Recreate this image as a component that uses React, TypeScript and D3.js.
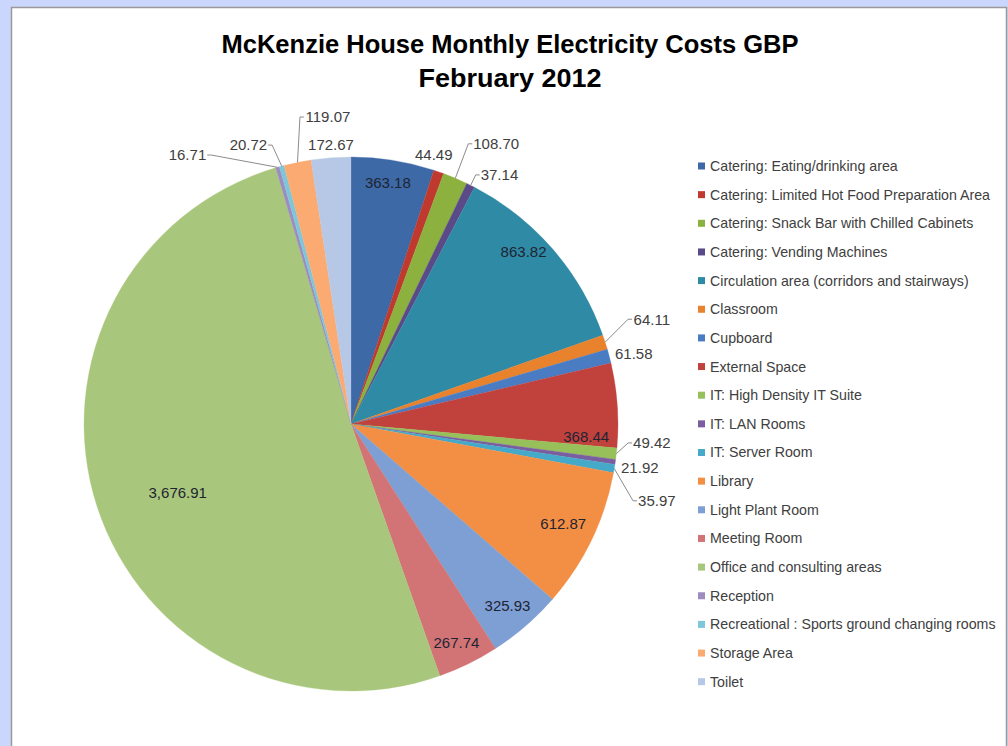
import React from 'react';
import * as d3 from 'd3';

const categories = [
  'Catering: Eating/drinking area',
  'Catering: Limited Hot Food Preparation Area',
  'Catering: Snack Bar with Chilled Cabinets',
  'Catering: Vending Machines',
  'Circulation area (corridors and stairways)',
  'Classroom',
  'Cupboard',
  'External Space',
  'IT: High Density IT Suite',
  'IT: LAN Rooms',
  'IT: Server Room',
  'Library',
  'Light Plant Room',
  'Meeting Room',
  'Office and consulting areas',
  'Reception',
  'Recreational : Sports ground changing rooms',
  'Storage Area',
  'Toilet',
];

const values = [
  363.18, 44.49, 108.7, 37.14, 863.82, 64.11, 61.58, 368.44, 49.42, 21.92,
  35.97, 612.87, 325.93, 267.74, 3676.91, 16.71, 20.72, 119.07, 172.67,
];

const colors = [
  '#3d69a6', '#c0392f', '#8cb13e', '#5a4a88', '#2f8aa6', '#e8822c',
  '#4a7cc4', '#c1423d', '#98c05a', '#7a5fa0', '#45a9c9', '#f38f44',
  '#7d9fd3', '#d27475', '#a9c77c', '#9c8cc0', '#7ec6da', '#fbab72', '#b7c8e6',
];

// label placement: angle in degrees clockwise from 12 o'clock, radius as fraction of the pie radius
const labelAngles = [8.7, 17.1, 27.4, 30.8, 45, 70.8, 76.1, 93.1, 93.6, 98.6, 104.1, 115.1, 139.2, 154.3, 248.4, 328.7, 339.8, 355.7, 355.9];
const labelRadii = [0.913, 1.054, 1.182, 1.086, 0.914, 1.193, 1.091, 0.882, 1.129, 1.094, 1.181, 0.878, 0.897, 0.911, 0.698, 1.179, 1.113, 1.153, 1.047];
const labelLeader = [false, false, true, true, false, true, false, false, true, false, true, false, false, false, false, true, true, true, false];

const W = 1008;
const H = 746;
const cx = 351;
const cy = 424;
const R = 267;
const labelFont = 15;

const fmt = d3.format(',.2f');

function textWidth(s: string, size: number) {
  let w = 0;
  for (const ch of s) w += ch === '.' || ch === ',' ? 0.278 : 0.556;
  return w * size;
}

export default function App() {
  const pie = d3.pie<number>().sort(null).value((d) => d)(values);
  const arc = d3.arc<d3.PieArcDatum<number>>().innerRadius(0).outerRadius(R);

  const legendX = 698;
  const legendY0 = 166;
  const legendStep = 28.65;

  const toXY = (deg: number, r: number): [number, number] => {
    const a = (deg * Math.PI) / 180;
    return [Math.sin(a) * r, -Math.cos(a) * r];
  };

  return (
    <svg
      width={W}
      height={H}
      style={{ position: 'absolute', left: 0, top: 0, display: 'block' }}
      fontFamily="'Liberation Sans', Arial, sans-serif"
    >
      <rect x={0} y={0} width={W} height={H} fill="#cbd6fc" />
      <rect x={11.5} y={7.5} width={995} height={H + 10} fill="#ffffff" stroke="#9a9a9a" strokeWidth={1.5} />
      <text x={510} y={53} textAnchor="middle" fontSize={26} fontWeight="bold" fill="#000" textLength={577} lengthAdjust="spacingAndGlyphs">
        McKenzie House Monthly Electricity Costs GBP
      </text>
      <text x={510} y={87} textAnchor="middle" fontSize={26} fontWeight="bold" fill="#000" textLength={183} lengthAdjust="spacingAndGlyphs">
        February 2012
      </text>
      <g transform={`translate(${cx},${cy})`}>
        {pie.map((p, i) => (
          <path key={i} d={arc(p) || ''} fill={colors[i]} stroke={colors[i]} strokeWidth={0.3} />
        ))}
        {pie.map((p, i) => {
          const [lx, ly] = toXY(labelAngles[i], labelRadii[i] * R);
          const txt = fmt(values[i]);
          const tw = textWidth(txt, labelFont);
          let leader = null;
          if (labelLeader[i]) {
            const mid = ((p.startAngle + p.endAngle) / 2) * (180 / Math.PI);
            const [sx, sy] = toXY(mid, R);
            const leftSide = lx < sx;
            const ex = leftSide ? lx + tw / 2 + 1 : lx - tw / 2 - 1;
            const ex2 = leftSide ? ex + 4 : ex - 4;
            leader = (
              <polyline
                points={`${ex},${ly} ${ex2},${ly} ${sx},${sy}`}
                fill="none"
                stroke="#8c8c8c"
                strokeWidth={1}
              />
            );
          }
          const inside = labelRadii[i] < 1;
          return (
            <g key={'l' + i}>
              {leader}
              <text
                x={lx}
                y={ly}
                dy="0.35em"
                textAnchor="middle"
                fontSize={labelFont}
                fill={inside ? '#1f2433' : '#404040'}
              >
                {txt}
              </text>
            </g>
          );
        })}
      </g>
      <g>
        {categories.map((c, i) => (
          <g key={'lg' + i} transform={`translate(${legendX},${legendY0 + i * legendStep})`}>
            <rect x={0} y={-3.5} width={7} height={7} fill={colors[i]} />
            <text x={12} y={0} dy="0.35em" fontSize={14.2} fill="#404040">
              {c}
            </text>
          </g>
        ))}
      </g>
    </svg>
  );
}
